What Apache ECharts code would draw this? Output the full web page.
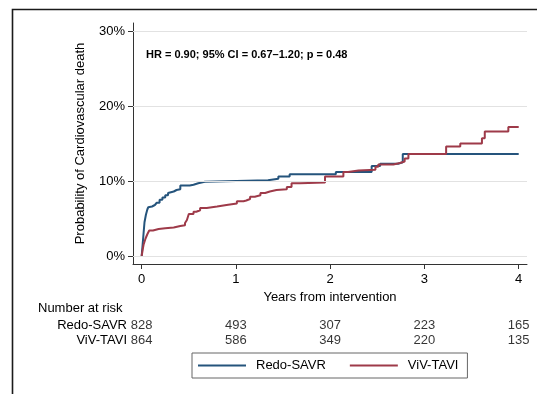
<!DOCTYPE html>
<html>
<head>
<meta charset="utf-8">
<script src="https://cdn.jsdelivr.net/npm/echarts@6/dist/echarts.min.js"></script>
<style>html,body{margin:0;padding:0;background:#fff;}#c{width:537px;height:394px;}</style>
</head>
<body>
<div id="c"></div>
<script>
// ---- data ----
var yearsSAVR = [0, 0.01, 0.02, 0.03, 0.045, 0.06, 0.07, 0.09, 0.11, 0.14, 0.16, 0.19, 0.22, 0.25, 0.28, 0.3, 0.34, 0.37, 0.41, 0.51, 0.55, 0.6, 0.62, 0.67, 1.34, 1.45, 1.57, 2.06, 2.44, 2.53, 2.72, 2.77, 4.0];
var riskSAVR  = [0, 1.5, 3.0, 4.5, 5.5, 6.2, 6.5, 6.6, 6.8, 6.9, 7.1, 7.5, 7.8, 8.1, 8.4, 8.6, 8.8, 8.9, 9.4, 9.5, 9.7, 9.8, 9.9, 10.1, 10.3, 10.6, 10.9, 11.2, 12.0, 12.3, 12.5, 13.6, 13.6];

var yearsTAVI = [0, 0.01, 0.02, 0.04, 0.06, 0.08, 0.12, 0.18, 0.25, 0.34, 0.41, 0.46, 0.48, 0.5, 0.55, 0.58, 0.62, 0.69, 0.8, 0.9, 1.01, 1.08, 1.11, 1.15, 1.2, 1.26, 1.31, 1.36, 1.43, 1.54, 1.59, 1.68, 1.945, 2.14, 2.19, 2.3, 2.48, 2.51, 2.67, 2.74, 2.79, 2.83, 3.23, 3.38, 3.61, 3.64, 3.89, 4.0];
var riskTAVI  = [0, 0.8, 1.5, 2.3, 2.9, 3.4, 3.6, 3.7, 3.8, 4.0, 4.1, 4.4, 4.8, 5.6, 5.9, 6.1, 6.4, 6.6, 6.8, 7.0, 7.3, 7.4, 7.6, 7.9, 8.1, 8.4, 8.6, 8.8, 8.9, 9.2, 9.7, 9.8, 10.6, 11.2, 11.4, 11.5, 11.9, 12.2, 12.4, 12.6, 13.0, 13.6, 14.6, 15.0, 15.7, 16.6, 17.2, 17.2];

var xTicks = [0, 1, 2, 3, 4];
var yTicks = [0, 10, 20, 30];
var riskTimes = [0, 1, 2, 3, 4];
var atRiskSAVR = [828, 493, 307, 223, 165];
var atRiskTAVI = [864, 586, 349, 220, 135];
var groupNames = ['Redo-SAVR', 'ViV-TAVI'];
var hrText = 'HR = 0.90; 95% CI = 0.67\u20131.20; p = 0.48';

// ---- build ----
var X_MIN = -0.092, X_MAX = 4.088, Y_MIN = -1.067, Y_MAX = 31.07;
function pairs(xs, ys) { return xs.map(function (x, i) { return [x, ys[i]]; }); }
function riskPts(name, vals) { return riskTimes.map(function (t, i) { return [t, name, vals[i]]; }); }

var FONT = 'Liberation Sans, Arial, Helvetica, sans-serif';
var BLUE = '#25547c', RED = '#9e3a49';
var chart = echarts.init(document.getElementById('c'), null, { renderer: 'canvas' });
chart.setOption({
  animation: false,
  backgroundColor: '#fff',
  textStyle: { fontFamily: FONT },
  grid: [
    { left: 133, top: 23, width: 394, height: 241, containLabel: false },
    { left: 133, top: 318, width: 394, height: 30, containLabel: false }
  ],
  xAxis: [
    {
      gridIndex: 0, type: 'value', min: X_MIN, max: X_MAX,
      name: 'Years from intervention', nameLocation: 'middle', nameGap: 24,
      nameTextStyle: { fontSize: 13, color: '#000', fontFamily: FONT },
      axisLine: { show: true, onZero: false, lineStyle: { color: '#333', width: 1 } },
      axisTick: { show: true, length: 5, lineStyle: { color: '#333' }, customValues: xTicks },
      axisLabel: { show: true, fontSize: 13, color: '#000', margin: 9, fontFamily: FONT, customValues: xTicks },
      splitLine: { show: false }
    },
    { gridIndex: 1, type: 'value', min: X_MIN, max: X_MAX, show: false }
  ],
  yAxis: [
    {
      gridIndex: 0, type: 'value', min: Y_MIN, max: Y_MAX,
      name: 'Probability of Cardiovascular death', nameLocation: 'middle', nameGap: 46,
      nameTextStyle: { fontSize: 13, color: '#000', fontFamily: FONT },
      axisLine: { show: true, onZero: false, lineStyle: { color: '#333', width: 1 } },
      axisTick: { show: true, length: 5, lineStyle: { color: '#333' }, customValues: yTicks },
      axisLabel: { show: true, fontSize: 13, color: '#000', margin: 8, fontFamily: FONT, customValues: yTicks,
                   formatter: function (v) { return v + '%'; } },
      splitLine: { show: false }
    },
    {
      gridIndex: 1, type: 'category', data: groupNames, inverse: true,
      axisLine: { show: false }, axisTick: { show: false },
      axisLabel: { fontSize: 13, color: '#000', margin: 6, fontFamily: FONT, interval: 0 },
      splitLine: { show: false }
    }
  ],
  legend: {
    data: groupNames,
    left: 192, top: 353,
    icon: 'rect', itemWidth: 48, itemHeight: 2, itemGap: 24,
    borderColor: '#666', borderWidth: 1, borderRadius: 0,
    padding: [6, 9, 6, 6],
    textStyle: { fontSize: 13, color: '#000', fontFamily: FONT, padding: [0, 0, 0, 5] }
  },
  series: [
    {
      name: 'grid', type: 'line', xAxisIndex: 0, yAxisIndex: 0, data: [], silent: true, z: 1,
      markLine: {
        silent: true, symbol: 'none', label: { show: false },
        lineStyle: { color: '#e2e2e2', type: 'solid', width: 1 },
        data: yTicks.map(function (v) { return [{ coord: [X_MIN, v] }, { coord: [X_MAX, v] }]; })
      }
    },
    {
      name: 'Redo-SAVR', type: 'line', step: 'end', showSymbol: false, symbol: 'none',
      xAxisIndex: 0, yAxisIndex: 0,
      data: pairs(yearsSAVR, riskSAVR),
      lineStyle: { color: BLUE, width: 2 }, itemStyle: { color: BLUE }, z: 3
    },
    {
      name: 'ViV-TAVI', type: 'line', step: 'end', showSymbol: false, symbol: 'none',
      xAxisIndex: 0, yAxisIndex: 0,
      data: pairs(yearsTAVI, riskTAVI),
      lineStyle: { color: RED, width: 2 }, itemStyle: { color: RED }, z: 4
    },
    {
      name: 'riskSAVR', type: 'scatter', xAxisIndex: 1, yAxisIndex: 1,
      symbolSize: 1, itemStyle: { color: 'rgba(0,0,0,0)' }, silent: true,
      data: riskPts(groupNames[0], atRiskSAVR),
      label: { show: true, position: 'inside', fontSize: 13, color: '#000', fontFamily: FONT,
               formatter: function (p) { return String(p.value[2]); } }
    },
    {
      name: 'riskTAVI', type: 'scatter', xAxisIndex: 1, yAxisIndex: 1,
      symbolSize: 1, itemStyle: { color: 'rgba(0,0,0,0)' }, silent: true,
      data: riskPts(groupNames[1], atRiskTAVI),
      label: { show: true, position: 'inside', fontSize: 13, color: '#000', fontFamily: FONT,
               formatter: function (p) { return String(p.value[2]); } }
    }
  ],
  graphic: [
    { type: 'rect', shape: { x: 12.5, y: 9.5, width: 700, height: 600 },
      style: { fill: 'none', stroke: '#1a1a1a', lineWidth: 1.6 }, silent: true },
    { type: 'text', left: 146, top: 49, style: { text: hrText, font: 'bold 11px ' + FONT, fill: '#000' } },
    { type: 'text', left: 38, top: 302, style: { text: 'Number at risk', font: '13px ' + FONT, fill: '#000' } }
  ]
});
</script>
</body>
</html>
